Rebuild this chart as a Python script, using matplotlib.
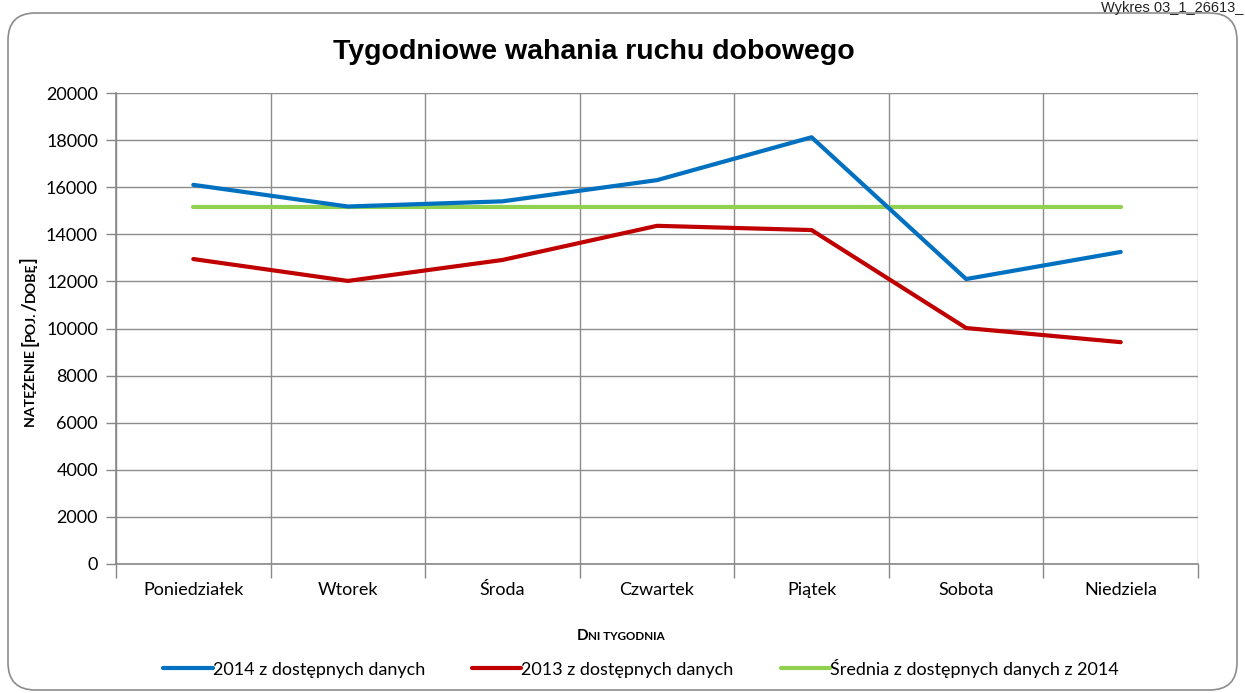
import matplotlib
matplotlib.use("Agg")
import matplotlib.pyplot as plt
from matplotlib.patches import FancyBboxPatch
import numpy as np

days = ["Poniedziałek", "Wtorek", "Środa", "Czwartek", "Piątek", "Sobota", "Niedziela"]
vals_2014 = [16100, 15180, 15400, 16300, 18120, 12100, 13250]
vals_2013 = [12950, 12020, 12910, 14360, 14180, 10020, 9420]
avg_2014 = [15170] * 7
y_ticks = list(range(0, 20001, 2000))

W, H = 1245, 693
FONT = ["Lato", "DejaVu Sans"]
fig = plt.figure(figsize=(W / 100, H / 100), dpi=100)
fig.patch.set_facecolor("white")

frame = FancyBboxPatch((8 / W, 3 / H), 1229 / W, 677 / H,
                       boxstyle="round,pad=0,rounding_size=0.022",
                       transform=fig.transFigure, facecolor="none",
                       edgecolor="#8c8c8c", linewidth=1.2, mutation_aspect=W / H)
fig.patches.append(frame)

fig.text(1243 / W, 1 - 1 / H, "Wykres 03_1_26613_", fontsize=10.5,
         family=["Liberation Sans"], ha="right", va="top", color="#222222")

ax = fig.add_axes([116 / W, (H - 564) / H, 1082 / W, 471 / H])
x = np.arange(len(days))
ax.plot(x, vals_2014, color="#0070C0", lw=3.0, solid_capstyle="round", label="2014 z dostępnych danych", zorder=3)
ax.plot(x, vals_2013, color="#C00000", lw=3.0, solid_capstyle="round", label="2013 z dostępnych danych", zorder=3)
ax.plot(x, avg_2014, color="#92D050", lw=3.0, solid_capstyle="round", label="Średnia z dostępnych danych z 2014", zorder=2)

ax.set_xlim(-0.5, len(days) - 0.5)
ax.set_ylim(0, 20000)
ax.set_yticks(y_ticks)
ax.set_yticklabels([str(v) for v in y_ticks], fontsize=13, family=FONT)
ax.set_xticks(x)
ax.set_xticklabels(days, fontsize=13, family=FONT)
ax.set_xticks(np.arange(-0.5, len(days) + 0.5, 1), minor=True)
ax.tick_params(axis="x", which="major", length=0, pad=13)
ax.tick_params(axis="x", which="minor", length=10, color="#888888", width=1)
ax.tick_params(axis="y", length=7, color="#888888", width=1, pad=6)
ax.grid(axis="y", which="major", color="#8c8c8c", lw=1)
ax.grid(axis="x", which="minor", color="#8c8c8c", lw=1)
ax.set_axisbelow(True)
for s in ["top", "right"]:
    ax.spines[s].set_visible(False)
for s in ["left", "bottom"]:
    ax.spines[s].set_color("#888888")
    ax.spines[s].set_linewidth(1.2)

fig.text(594 / W, 1 - 52 / H, "Tygodniowe wahania ruchu dobowego", fontsize=20.5,
         fontweight="bold", family=["Liberation Sans"], ha="center", va="center")

renderer = fig.canvas.get_renderer()


def chain(pieces, cx, cy, vertical=False):
    """Place text pieces one after another, centred at pixel (cx, cy from top)."""
    texts, widths = [], []
    for s, size in pieces:
        t = fig.text(0, 0, s, fontsize=size, fontweight="bold", family=FONT,
                     ha="left", va="baseline", rotation_mode="anchor")
        bb = t.get_window_extent(renderer)
        texts.append(t)
        widths.append(bb.width)
    total = sum(widths)
    pos = -total / 2
    for t, w in zip(texts, widths):
        if vertical:
            t.set_rotation(90)
            t.set_position(((cx + 4) / W, (H - cy + pos) / H))
        else:
            t.set_position(((cx + pos) / W, (H - cy - 4) / H))
        pos += w


chain([("NATĘŻENIE ", 10.2), ("[", 13.5), ("POJ.", 10.2), ("/", 13.5), ("DOBĘ", 10.2), ("]", 13.5)],
      31, 342, vertical=True)
chain([("D", 11), ("NI TYGODNIA", 8.4)], 621, 636)

leg = fig.legend(loc="center", bbox_to_anchor=(641 / W, 1 - 668 / H), ncol=3, frameon=False,
                 prop={"family": FONT, "size": 13}, handlelength=2.75, handletextpad=0.0,
                 columnspacing=2.6)

fig.savefig("out.png", dpi=100, facecolor="white")
